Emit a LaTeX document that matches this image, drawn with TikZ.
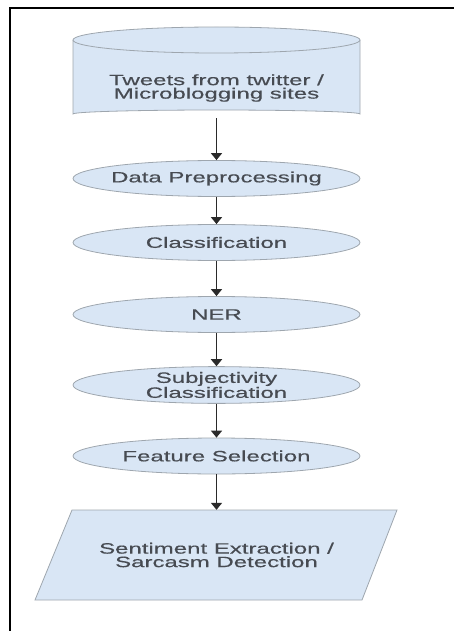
\documentclass[tikz,border=0pt]{standalone}
\usepackage{fontspec}
\setmainfont{Liberation Sans}[FakeStretch=1.6,FakeBold=0.4]
\usetikzlibrary{shapes.geometric,arrows.meta}
\definecolor{boxfill}{HTML}{D9E6F5}
\definecolor{boxline}{HTML}{9EA6AE}
\definecolor{txt}{HTML}{474B52}
\definecolor{arr}{HTML}{2A2A2A}
\tikzset{
  label text/.style={font=\fontsize{15}{13.5}\selectfont, text=txt, align=center, inner sep=0pt},
  stage/.style={ellipse, draw=boxline, fill=boxfill, line width=0.8pt, minimum width=287pt, minimum height=36pt, label text, inner xsep=-45pt, inner ysep=0pt},
  flow/.style={draw=arr, line width=1.8pt, -{Triangle[width=11pt,length=7pt]}},
  frame/.style={draw=black, line width=2pt}
}
\begin{document}
\begin{tikzpicture}[x=1pt,y=-1pt]
\useasboundingbox (0,0) rectangle (454,631);
% frame (top and left edges only)
\draw[frame] (454,8) -- (10,8) -- (10,631);
% cylinder
\path[fill=boxfill] (73,40) -- (73,114) arc[start angle=180, end angle=360, x radius=143.5, y radius=4] -- (360,40) -- cycle;
\draw[boxline, line width=0.8pt] (73,40) -- (73,114) arc[start angle=180, end angle=360, x radius=143.5, y radius=4] -- (360,40);
\draw[boxline, line width=0.8pt, fill=boxfill] (216.5,40) ellipse[x radius=143.5, y radius=13];
\node[label text, minimum height=60pt] (tw) at (216.5,88) {Tweets from twitter /\\Microblogging sites};
% stages
\node[stage] (dp) at (216.5,178.5) {Data Preprocessing};
\node[stage] (cl) at (216.5,242.5) {Classification};
\node[stage] (ner) at (216.5,314.5) {NER};
\node[stage] (sc) at (216.5,385) {Subjectivity\\Classification};
\node[stage] (fs) at (216.5,456) {Feature Selection};
% parallelogram
\draw[boxline, line width=0.8pt, fill=boxfill] (72,510) -- (397,510) -- (362,600) -- (35,600) -- cycle;
\node[label text, minimum height=90pt] (se) at (216.5,555) {Sentiment Extraction /\\Sarcasm Detection};
% connectors
\draw[flow] (tw.south) -- (dp.north);
\draw[flow] (dp.south) -- (cl.north);
\draw[flow] (cl.south) -- (ner.north);
\draw[flow] (ner.south) -- (sc.north);
\draw[flow] (sc.south) -- (fs.north);
\draw[flow] (fs.south) -- (se.north);
\end{tikzpicture}
\end{document}
